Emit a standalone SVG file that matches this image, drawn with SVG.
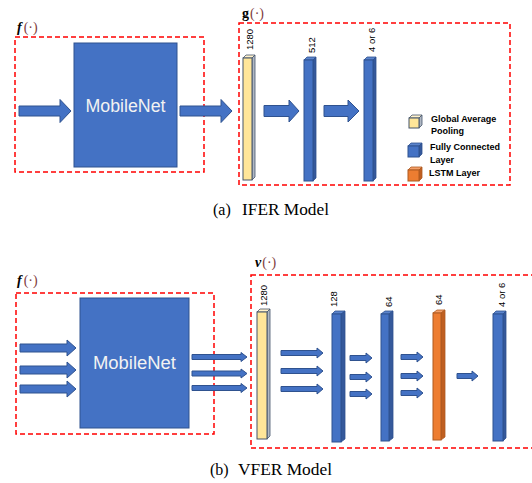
<svg xmlns="http://www.w3.org/2000/svg" width="532" height="483" viewBox="0 0 532 483">
  <style>
    .frame { fill: none; stroke: #ff0000; stroke-width: 1.5; stroke-dasharray: 5 3; }
    .net { fill: #4472c4; stroke: #2f528f; stroke-width: 1; }
    .net-label { font-family: "Liberation Sans", Arial, sans-serif; font-size: 18px; fill: #f2f2f2; text-anchor: middle; }
    .arrow { fill: #4472c4; stroke: #2f528f; stroke-width: 1; }
    .fc .front { fill: #4472c4; stroke: #2f528f; stroke-width: 1; }
    .fc .top { fill: #5b84cc; stroke: #2f528f; stroke-width: 0.8; }
    .fc .side { fill: #35599b; stroke: #2f528f; stroke-width: 0.8; }
    .gap .front { fill: #ffe699; stroke: #44546a; stroke-width: 1; }
    .gap .top { fill: #fff2cc; stroke: #44546a; stroke-width: 0.8; }
    .gap .side { fill: #b0b8c4; stroke: #44546a; stroke-width: 0.8; }
    .lstm .front { fill: #ed7d31; stroke: #ae5a21; stroke-width: 1; }
    .lstm .top { fill: #f4a06a; stroke: #ae5a21; stroke-width: 0.8; }
    .lstm .side { fill: #c05f20; stroke: #ae5a21; stroke-width: 0.8; }
    .dim { font-family: "Liberation Sans", Arial, sans-serif; font-size: 9.5px; fill: #000; }
    .legend { font-family: "Liberation Sans", Arial, sans-serif; font-size: 9px; font-weight: bold; fill: #000; }
    .fn { font-family: "Liberation Serif", "Times New Roman", serif; font-size: 14px; fill: #000; }
    .fn .arg { fill: #7f4040; font-weight: normal; font-style: normal; }
    .caption { font-family: "Liberation Serif", "Times New Roman", serif; font-size: 16px; fill: #000; }
  </style>

  <!-- ===== (a) IFER model ===== -->
  <g id="ifer-f">
    <text class="fn" x="17" y="32"><tspan font-weight="bold" font-style="italic">f</tspan><tspan class="arg" dx="2">(·)</tspan></text>
    <rect class="frame" x="15" y="37" width="189" height="135"/>
  </g>
  <g id="ifer-mobilenet">
    <rect class="net" x="74" y="43" width="103" height="124"/>
    <text class="net-label" x="125.5" y="112" textLength="80" lengthAdjust="spacingAndGlyphs">MobileNet</text>
  </g>
  <g id="ifer-g">
    <text class="fn" x="242" y="18"><tspan font-weight="bold">g</tspan><tspan class="arg" dx="1">(·)</tspan></text>
    <rect class="frame" x="239" y="23" width="271" height="162"/>
  </g>

  <g id="ifer-gap" class="gap">
    <polygon class="top" points="243,58 246,55 255,55 252,58"/>
    <polygon class="side" points="252,58 255,55 255,177 252,180"/>
    <rect class="front" x="243" y="58" width="9" height="122"/>
    <text class="dim" transform="translate(253,50) rotate(-90)">1280</text>
  </g>
  <g id="ifer-fc512" class="fc">
    <polygon class="top" points="304,60 307,57 316,57 313,60"/>
    <polygon class="side" points="313,60 316,57 316,178 313,181"/>
    <rect class="front" x="304" y="60" width="9" height="121"/>
    <text class="dim" transform="translate(315,53) rotate(-90)">512</text>
  </g>
  <g id="ifer-fcout" class="fc">
    <polygon class="top" points="364,60 367,57 376,57 373,60"/>
    <polygon class="side" points="373,60 376,57 376,178 373,181"/>
    <rect class="front" x="364" y="60" width="9" height="121"/>
    <text class="dim" transform="translate(375,52) rotate(-90)">4 or 6</text>
  </g>

  <g id="legend">
    <g class="gap">
      <polygon class="top" points="409,118 412,115 422,115 419,118"/>
      <polygon class="side" points="419,118 422,115 422,125 419,128"/>
      <rect class="front" x="409" y="118" width="10" height="10"/>
    </g>
    <text class="legend" x="431" y="122">Global Average</text>
    <text class="legend" x="431" y="134">Pooling</text>
    <g class="fc">
      <polygon class="top" points="408,146 411,143 422,143 419,146"/>
      <polygon class="side" points="419,146 422,143 422,154 419,157"/>
      <rect class="front" x="408" y="146" width="11" height="11"/>
    </g>
    <text class="legend" x="430" y="150">Fully Connected</text>
    <text class="legend" x="430" y="163">Layer</text>
    <g class="lstm">
      <polygon class="top" points="408,170 411,167 422,167 419,170"/>
      <polygon class="side" points="419,170 422,167 422,178 419,181"/>
      <rect class="front" x="408" y="170" width="11" height="11"/>
    </g>
    <text class="legend" x="429" y="176">LSTM Layer</text>
  </g>

  <g id="ifer-connectors">
    <polygon class="arrow" points="19,106 60,106 60,99.5 71,111 60,122.5 60,116 19,116"/>
    <polygon class="arrow" points="180,106 221,106 221,99.5 232,111 221,122.5 221,116 180,116"/>
    <polygon class="arrow" points="264,105.5 289,105.5 289,100 299,111 289,122 289,116.5 264,116.5"/>
    <polygon class="arrow" points="324,105.5 348,105.5 348,100 359,111 348,122 348,116.5 324,116.5"/>
  </g>

  <text class="caption" x="213" y="215">(a)</text>
  <text class="caption" x="242" y="215" textLength="87" lengthAdjust="spacingAndGlyphs">IFER Model</text>

  <!-- ===== (b) VFER model ===== -->
  <g id="vfer-f">
    <text class="fn" x="17" y="285"><tspan font-weight="bold" font-style="italic">f</tspan><tspan class="arg" dx="2">(·)</tspan></text>
    <rect class="frame" x="16" y="293" width="198" height="141"/>
  </g>
  <g id="vfer-mobilenet">
    <rect class="net" x="80" y="298" width="109" height="130"/>
    <text class="net-label" x="134.5" y="369" textLength="83" lengthAdjust="spacingAndGlyphs">MobileNet</text>
  </g>
  <g id="vfer-v">
    <text class="fn" x="255" y="267"><tspan font-weight="bold" font-style="italic">v</tspan><tspan class="arg" dx="1">(·)</tspan></text>
    <rect class="frame" x="251" y="275" width="300" height="173"/>
  </g>

  <g id="vfer-gap" class="gap">
    <polygon class="top" points="257,312 260,309 270,309 267,312"/>
    <polygon class="side" points="267,312 270,309 270,436 267,439"/>
    <rect class="front" x="257" y="312" width="10" height="127"/>
    <text class="dim" transform="translate(267,306) rotate(-90)">1280</text>
  </g>
  <g id="vfer-fc128" class="fc">
    <polygon class="top" points="332,314 335,311 345,311 342,314"/>
    <polygon class="side" points="341,314 345,311 345,439 341,442"/>
    <rect class="front" x="332" y="314" width="9" height="128"/>
    <text class="dim" transform="translate(337,307) rotate(-90)">128</text>
  </g>
  <g id="vfer-fc64" class="fc">
    <polygon class="top" points="381,314 385,311 393,311 389,314"/>
    <polygon class="side" points="389,314 393,311 393,438 389,441"/>
    <rect class="front" x="381" y="314" width="8" height="127"/>
    <text class="dim" transform="translate(392,307) rotate(-90)">64</text>
  </g>
  <g id="vfer-lstm" class="lstm">
    <polygon class="top" points="433,313 437,310 445,310 441,313"/>
    <polygon class="side" points="441,313 445,310 445,437 441,440"/>
    <rect class="front" x="433" y="313" width="8" height="127"/>
    <text class="dim" transform="translate(442,305) rotate(-90)">64</text>
  </g>
  <g id="vfer-fcout" class="fc">
    <polygon class="top" points="493,314 496,311 506,311 503,314"/>
    <polygon class="side" points="503,314 506,311 506,438 503,441"/>
    <rect class="front" x="493" y="314" width="10" height="127"/>
    <text class="dim" transform="translate(505,307) rotate(-90)">4 or 6</text>
  </g>

  <g id="vfer-connectors">
    <!-- frames into MobileNet -->
    <polygon class="arrow" points="20,344 67,344 67,340 76,348 67,356 67,352 20,352"/>
    <polygon class="arrow" points="20,366 67,366 67,362 76,370 67,378 67,374 20,374"/>
    <polygon class="arrow" points="20,385 67,385 67,381 76,389 67,397 67,393 20,393"/>
    <!-- per-frame features to pooling -->
    <polygon class="arrow" points="192,354.5 241,354.5 241,352.5 247,357 241,361.5 241,359.5 192,359.5"/>
    <polygon class="arrow" points="192,371 241,371 241,369 247,373.5 241,378 241,376 192,376"/>
    <polygon class="arrow" points="192,385.5 241,385.5 241,383.5 247,388 241,392.5 241,390.5 192,390.5"/>
    <!-- pooling to FC 128 -->
    <polygon class="arrow" points="281,350.5 317,350.5 317,348 323,353 317,358 317,355.5 281,355.5"/>
    <polygon class="arrow" points="281,368.5 317,368.5 317,366 323,371 317,376 317,373.5 281,373.5"/>
    <polygon class="arrow" points="281,386.5 317,386.5 317,384 323,389 317,394 317,391.5 281,391.5"/>
    <!-- FC 128 to FC 64 -->
    <polygon class="arrow" points="350,355.5 366,355.5 366,353 372,358 366,363 366,360.5 350,360.5"/>
    <polygon class="arrow" points="350,374.5 366,374.5 366,372 372,377 366,382 366,379.5 350,379.5"/>
    <polygon class="arrow" points="350,391.5 366,391.5 366,389 372,394 366,399 366,396.5 350,396.5"/>
    <!-- FC 64 to LSTM -->
    <polygon class="arrow" points="401,354.5 417,354.5 417,352 423,357 417,362 417,359.5 401,359.5"/>
    <polygon class="arrow" points="401,373.5 417,373.5 417,371 423,376 417,381 417,378.5 401,378.5"/>
    <polygon class="arrow" points="401,390.5 417,390.5 417,388 423,393 417,398 417,395.5 401,395.5"/>
    <!-- LSTM to output -->
    <polygon class="arrow" points="457,373.5 472,373.5 472,371 478,376 472,381 472,378.5 457,378.5"/>
  </g>

  <text class="caption" x="210" y="475">(b)</text>
  <text class="caption" x="238" y="475" textLength="94" lengthAdjust="spacingAndGlyphs">VFER Model</text>
</svg>
